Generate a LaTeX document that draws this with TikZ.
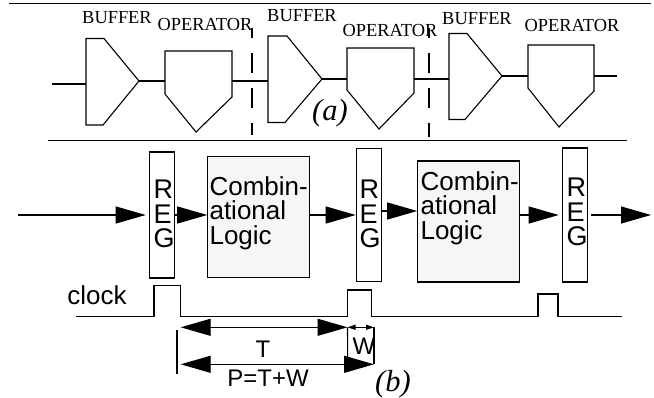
\documentclass[tikz,border=0pt]{standalone}
\usepackage{fontspec}
\setmainfont{Liberation Serif}
\setsansfont{Liberation Sans}
\usetikzlibrary{arrows.meta}
\definecolor{logicgray}{HTML}{F6F6F6}
\begin{document}
\begin{tikzpicture}[x=1pt, y=-1pt, line width=1.1pt, inner sep=0pt,
    stage label/.style={font=\fontsize{18.4}{18.4}\selectfont},
    part label/.style={font=\fontsize{30.5}{30.5}\selectfont\itshape},
    sans label/.style={font=\fontsize{26}{24.5}\selectfont\sffamily, align=left},
    reg label/.style={font=\fontsize{27}{24.5}\selectfont\sffamily, align=left},
    dim label/.style={font=\fontsize{24}{24}\selectfont\sffamily},
    reg node/.style={draw, minimum width=25.5pt, minimum height=126pt},
    logic node/.style={draw, fill=logicgray, minimum width=101.5pt, minimum height=121pt},
    sep line/.style={line width=1.6pt},
    cut line/.style={dash pattern=on 20pt off 15pt, dash phase=10pt},
    big arrow/.style={-{Triangle[length=30pt, width=17pt]}},
    dim arrow/.style={{Triangle[length=30pt, width=17pt]}-{Triangle[length=30pt, width=17pt]}},
    tiny arrow/.style={{Triangle[length=8pt, width=5pt]}-{Triangle[length=8pt, width=5pt]}}]
    \useasboundingbox (0,0) rectangle (654,397);

    % (a)
    \coordinate (sepa1) at (9,3.5);
    \coordinate (sepa2) at (651,3.5);
    \coordinate (sepb1) at (48,140.5);
    \coordinate (sepb2) at (627,140.5);
    \draw[sep line] (sepa1) -- (sepa2);
    \draw[sep line] (sepb1) -- (sepb2);

    \node[stage label] (blabel1) at (117,18) {BUFFER};
    \node[stage label] (olabel1) at (205,24) {OPERATOR};
    \node[stage label] (blabel2) at (302,16) {BUFFER};
    \node[stage label] (olabel2) at (390,30) {OPERATOR};
    \node[stage label] (blabel3) at (477,19) {BUFFER};
    \node[stage label] (olabel3) at (572,25) {OPERATOR};

    \draw (86,38.5) -- (104,38.5) -- (139,81) -- (103,125) -- (86,125) -- cycle;
    \draw (165,51) -- (232,51) -- (232,97) -- (196,132) -- (165,94) -- cycle;
    \draw (268,36) -- (287,36) -- (322,79) -- (285,122.5) -- (268,122.5) -- cycle;
    \draw (347,48) -- (414,48) -- (414,93) -- (379,129) -- (347,90) -- cycle;
    \draw (449,33.5) -- (467,33.5) -- (502,76) -- (465,119.5) -- (449,119.5) -- cycle;
    \draw (528,45) -- (594,45) -- (594,91) -- (559,127) -- (528,88) -- cycle;

    \coordinate (in1) at (52,84);
    \coordinate (buf1in) at (86,84);
    \coordinate (buf1out) at (139,81);
    \coordinate (op1in) at (165,81);
    \coordinate (op1out) at (232,81);
    \coordinate (buf2in) at (268,81);
    \coordinate (buf2out) at (322,79);
    \coordinate (op2in) at (347,79);
    \coordinate (op2out) at (414,79);
    \coordinate (buf3in) at (449,79);
    \coordinate (buf3out) at (502,76);
    \coordinate (op3in) at (528,76);
    \coordinate (op3out) at (594,76);
    \coordinate (out1) at (617,76);
    \draw (in1) -- (buf1in);
    \draw (buf1out) -- (op1in);
    \draw (op1out) -- (buf2in);
    \draw (buf2out) -- (op2in);
    \draw (op2out) -- (buf3in);
    \draw (buf3out) -- (op3in);
    \draw (op3out) -- (out1);

    \coordinate (cut1a) at (252,28);
    \coordinate (cut1b) at (252,135);
    \coordinate (cut2a) at (429,28);
    \coordinate (cut2b) at (429,137);
    \draw[cut line] (cut1a) -- (cut1b);
    \draw[cut line] (cut2a) -- (cut2b);

    \node[part label] (parta) at (330,113) {(a)};

    % (b)
    \node[reg node] (reg1) at (162,215) {};
    \node[reg node, minimum height=133pt] (reg2) at (369,215) {};
    \node[reg node, minimum height=134pt] (reg3) at (575,215) {};
    \node[logic node] (logic1) at (258.5,217) {};
    \node[logic node] (logic2) at (468.5,221.5) {};

    \node[reg label] (reg1 text) at (164,214) {R\\E\\G};
    \node[reg label] (reg2 text) at (370,214) {R\\E\\G};
    \node[reg label] (reg3 text) at (577,212) {R\\E\\G};
    \node[sans label, anchor=west] (logic1 text) at (209,213) {Combin-\\ational\\Logic};
    \node[sans label, anchor=west] (logic2 text) at (420,208) {Combin-\\ational\\Logic};

    \coordinate (start) at (18,215);
    \coordinate (end) at (651,215);
    \coordinate (mid) at (0,211);
    \draw[big arrow, shorten >=3pt] (start) -- (reg1.west |- start);
    \draw[big arrow] (reg1.east |- start) -- (logic1.west |- start);
    \draw[big arrow] (logic1.east |- start) -- (reg2.west |- start);
    \draw[big arrow] (reg2.east |- mid) -- (logic2.west |- mid);
    \draw[big arrow, shorten >=3pt] (logic2.east |- start) -- (reg3.west |- start);
    \draw[big arrow, shorten <=3pt] (reg3.east |- start) -- (end);

    \node[sans label] (clock) at (97,295) {clock};
    \coordinate (clock start) at (76,316.7);
    \coordinate (clock end) at (622,316.7);
    \draw (clock start) -- (154,316.7) -- (154,285.7) -- (180.7,285.7) -- (180.7,316.7)
        -- (347.7,316.7) -- (347.7,290) -- (371.7,290) -- (371.7,316.7)
        -- (538,316.7) -- (538,294) -- (558,294) -- (558,316.7) -- (clock end);

    \coordinate (t1) at (180.7,327.3);
    \coordinate (t2) at (347.5,327.3);
    \coordinate (w2) at (374,327.3);
    \coordinate (p1) at (180.7,364.3);
    \coordinate (p2) at (374,364.3);
    \coordinate (w1low) at (347.7,364.3);
    \coordinate (tick1) at (177,330);
    \coordinate (tick2) at (177,374);
    \draw[dim arrow] (t1) -- (t2);
    \draw[tiny arrow] (t2) -- (w2);
    \draw[dim arrow] (p1) -- (p2);
    \draw (tick1) -- (tick2);
    \draw (t2) -- (w1low);
    \draw (w2) -- (p2);

    \node[dim label] (tlabel) at (263,349) {T};
    \node[dim label] (wlabel) at (364,346) {W};
    \node[dim label] (plabel) at (268,378) {P=T+W};
    \node[part label] (partb) at (393,384) {(b)};
\end{tikzpicture}
\end{document}
